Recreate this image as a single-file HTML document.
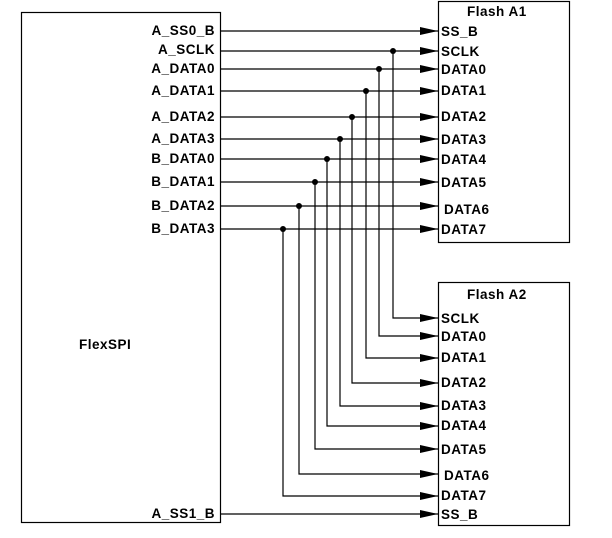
<!DOCTYPE html>
<html><head><style>body{margin:0;background:#fff}svg{display:block}text{font-family:"Liberation Sans",sans-serif;font-weight:bold;font-size:13.5px;letter-spacing:0.5px;fill:#000}</style></head><body>
<svg width="612" height="538" viewBox="0 0 612 538" xmlns="http://www.w3.org/2000/svg">
<defs><marker id="a" markerWidth="18" markerHeight="8" refX="18" refY="4" orient="auto" markerUnits="userSpaceOnUse"><path d="M0,0 L18,4 L0,8 Z" fill="#000"/></marker></defs>
<g fill="none" stroke="#000" stroke-width="1.2">
<rect x="21.5" y="12.5" width="199" height="510"/>
<rect x="438.5" y="1.5" width="131" height="241"/>
<rect x="438.5" y="282.5" width="131" height="243"/>
</g>
<g stroke="#000" stroke-width="1.2" fill="none" marker-end="url(#a)">
<path d="M221,31H438"/><path d="M221,51H438"/><path d="M221,69H438"/><path d="M221,91H438"/><path d="M221,117H438"/><path d="M221,139H438"/><path d="M221,159H438"/><path d="M221,182H438"/><path d="M221,206H438"/><path d="M221,229H438"/>
<path d="M393,51V318H438"/><path d="M379,69V336H438"/><path d="M366,91V358H438"/><path d="M352,117V383H438"/><path d="M340,139V406H438"/><path d="M327,159V426H438"/><path d="M315,182V449H438"/><path d="M299,206V474H438"/><path d="M283,229V496H438"/>
<path d="M221,514H438"/>
</g>
<g fill="#000"><circle cx="393" cy="51" r="3"/><circle cx="379" cy="69" r="3"/><circle cx="366" cy="91" r="3"/><circle cx="352" cy="117" r="3"/><circle cx="340" cy="139" r="3"/><circle cx="327" cy="159" r="3"/><circle cx="315" cy="182" r="3"/><circle cx="299" cy="206" r="3"/><circle cx="283" cy="229" r="3"/></g>
<g text-anchor="end">
<text x="215" y="35">A_SS0_B</text><text x="215" y="54">A_SCLK</text><text x="215" y="73">A_DATA0</text><text x="215" y="95">A_DATA1</text><text x="215" y="121">A_DATA2</text><text x="215" y="143">A_DATA3</text><text x="215" y="163">B_DATA0</text><text x="215" y="186">B_DATA1</text><text x="215" y="210">B_DATA2</text><text x="215" y="233">B_DATA3</text><text x="215" y="518">A_SS1_B</text>
</g>
<text x="79" y="349">FlexSPI</text>
<text x="467" y="16">Flash A1</text>
<text x="467" y="299">Flash A2</text>
<g>
<text x="441" y="36">SS_B</text><text x="441" y="56">SCLK</text><text x="441" y="74">DATA0</text><text x="441" y="95">DATA1</text><text x="441" y="121">DATA2</text><text x="441" y="144">DATA3</text><text x="441" y="164">DATA4</text><text x="441" y="187">DATA5</text><text x="444" y="214">DATA6</text><text x="441" y="234">DATA7</text>
<text x="441" y="323">SCLK</text><text x="441" y="341">DATA0</text><text x="441" y="362">DATA1</text><text x="441" y="387">DATA2</text><text x="441" y="410">DATA3</text><text x="441" y="430">DATA4</text><text x="441" y="454">DATA5</text><text x="444" y="480">DATA6</text><text x="441" y="500">DATA7</text><text x="441" y="519">SS_B</text>
</g>
</svg></body></html>
